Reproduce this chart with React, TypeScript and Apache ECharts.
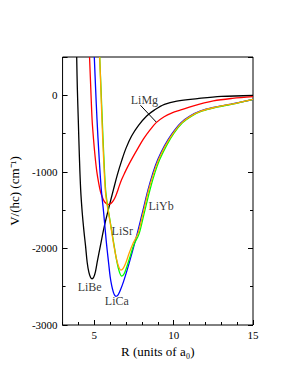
import React, { useEffect, useRef } from "react";
import * as echarts from "echarts";

// Potential curves: [R (a0), V/(hc) (cm^-1)]
const liBe = [
  [3.89, 500], [3.93, 100], [3.99, -314], [4.06, -800], [4.14, -1229], [4.24, -1534],
  [4.35, -1780], [4.45, -1970], [4.55, -2180], [4.66, -2314], [4.76, -2376], [4.86, -2396],
  [4.96, -2376], [5.07, -2306], [5.2, -2160], [5.38, -1970], [5.6, -1740], [5.9, -1480],
  [6.21, -1229], [6.45, -1040], [6.73, -850], [7.0, -690], [7.35, -532], [7.8, -390],
  [8.3, -270], [8.8, -190], [9.42, -118], [10.2, -75], [11.5, -43], [13, -15], [15, -3],
];
const liMg = [
  [4.7, 500], [4.78, 80], [4.86, -314], [4.95, -570], [5.05, -800], [5.16, -1000],
  [5.28, -1150], [5.38, -1250], [5.48, -1316], [5.6, -1375], [5.75, -1412], [5.9, -1425],
  [6.05, -1412], [6.2, -1375], [6.33, -1325], [6.45, -1260], [6.58, -1180], [6.73, -1098],
  [6.9, -1020], [7.1, -935], [7.35, -837], [7.7, -710], [8.1, -570], [8.5, -455],
  [8.9, -357], [9.4, -280], [9.9, -230], [10.45, -192], [11.2, -140], [12.5, -74],
  [13.7, -40], [15, -17],
];
const liCa = [
  [5.0, 500], [5.08, 100], [5.17, -314], [5.3, -800], [5.44, -1229], [5.59, -1534],
  [5.75, -1900], [5.9, -2187], [6.0, -2370], [6.1, -2490], [6.2, -2570], [6.28, -2610],
  [6.36, -2625], [6.5, -2605], [6.65, -2540], [6.83, -2440], [7.1, -2260], [7.4, -2040],
  [7.7, -1810], [8.0, -1560], [8.38, -1240], [8.7, -1010], [9.0, -840], [9.42, -660],
  [9.9, -500], [10.45, -360], [11.0, -275], [11.7, -205], [12.6, -155], [13.6, -115],
  [15, -55],
];
const liGreen = [
  [5.34, 500], [5.42, 100], [5.5, -314], [5.6, -800], [5.71, -1229], [5.82, -1420],
  [5.97, -1610], [6.12, -1800], [6.27, -1990], [6.42, -2170], [6.57, -2300], [6.73, -2362],
  [6.88, -2330], [7.05, -2240], [7.25, -2110], [7.5, -1950], [7.82, -1810], [8.12, -1560],
  [8.5, -1240], [8.82, -1010], [9.12, -840], [9.54, -660], [10.0, -500], [10.55, -360],
  [11.1, -275], [11.8, -205], [12.7, -155], [13.7, -115], [15, -52],
];
const liOrange = [
  [5.34, 500], [5.41, 100], [5.48, -314], [5.58, -800], [5.69, -1229], [5.8, -1420],
  [5.95, -1600], [6.1, -1790], [6.25, -1980], [6.4, -2140], [6.55, -2245], [6.68, -2283],
  [6.82, -2260], [7.0, -2180], [7.2, -2060], [7.45, -1930], [7.76, -1800], [8.05, -1560],
  [8.42, -1240], [8.75, -1010], [9.05, -840], [9.47, -660], [9.95, -500], [10.5, -360],
  [11.05, -275], [11.75, -205], [12.65, -155], [13.65, -115], [15, -52],
];

const labelNames = ["LiMg", "LiBe", "LiCa", "LiSr", "LiYb"];
const labelCoords = [[8.16, -65], [4.71, -2510], [6.42, -2693], [6.76, -1778], [9.21, -1451]];
const arrowFrom = [7.91, -131];
const arrowTo = [8.9, -349];

const xMajorTicks = [5, 10, 15];

const FONT = "Liberation Serif, Times New Roman, serif";

export default function App() {
  const ref = useRef<HTMLDivElement>(null);
  useEffect(() => {
    if (!ref.current) return;
    const chart = echarts.init(ref.current, undefined, { renderer: "svg" });
    const lineSeries = (name: string, data: number[][], color: string, extra: any = {}) => ({
      name,
      type: "line",
      data,
      smooth: 0.35,
      showSymbol: false,
      symbol: "none",
      lineStyle: { color, width: 1.3 },
      z: 3,
      ...extra,
    });
    const commonY = {
      type: "value",
      min: -3000,
      max: 500,
      splitLine: { show: false },
    };
    const noLine = { show: false, onZero: false };
    chart.setOption({
      animation: false,
      textStyle: { fontFamily: FONT },
      grid: {
        left: 60,
        right: 45,
        top: 57,
        bottom: 60,
        show: true,
        borderColor: "#000",
        borderWidth: 1,
        backgroundColor: "transparent",
      },
      xAxis: [
        {
          type: "value",
          min: 3,
          max: 15,
          position: "bottom",
          splitLine: { show: false },
          axisLine: noLine,
          axisTick: { show: true, inside: true, length: 5, customValues: xMajorTicks, lineStyle: { color: "#000" } },
          axisLabel: {
            customValues: xMajorTicks,
            color: "#000",
            fontSize: 11,
            fontFamily: FONT,
            margin: 4,
            formatter: (v: number) => String(v),
          },
          name: "R (units of a\u2080)",
          nameLocation: "middle",
          nameGap: 16,
          nameTextStyle: { color: "#000", fontSize: 13, fontFamily: FONT },
        },
        {
          type: "value",
          min: 3,
          max: 15,
          interval: 1,
          position: "bottom",
          splitLine: { show: false },
          axisLine: noLine,
          axisTick: { show: true, inside: true, length: 3, lineStyle: { color: "#000" } },
          axisLabel: { show: false },
        },
      ],
      yAxis: [
        {
          ...commonY,
          interval: 1000,
          position: "left",
          axisLine: noLine,
          axisTick: { show: true, inside: true, length: 5, lineStyle: { color: "#000" } },
          axisLabel: {
            color: "#000",
            fontSize: 11,
            fontFamily: FONT,
            margin: 5,
            formatter: (v: number) => (v > 0 ? "" : String(v)),
          },
          name: "V/(hc) (cm\u207B\u00B9)",
          nameLocation: "middle",
          nameGap: 31,
          nameRotate: 90,
          nameTextStyle: { color: "#000", fontSize: 13, fontFamily: FONT },
        },
        {
          ...commonY,
          interval: 500,
          position: "left",
          axisLine: noLine,
          axisTick: { show: true, inside: true, length: 3, lineStyle: { color: "#000" } },
          axisLabel: { show: false },
        },
        {
          ...commonY,
          interval: 1000,
          position: "right",
          axisLine: noLine,
          axisTick: { show: true, inside: true, length: 5, lineStyle: { color: "#000" } },
          axisLabel: { show: false },
        },
        {
          ...commonY,
          interval: 500,
          position: "right",
          axisLine: noLine,
          axisTick: { show: true, inside: true, length: 3, lineStyle: { color: "#000" } },
          axisLabel: { show: false },
        },
      ],
      series: [
        lineSeries("LiBe", liBe, "#000000"),
        lineSeries("LiMg", liMg, "#ff0000", {
          markLine: {
            silent: true,
            symbol: ["none", "arrow"],
            symbolSize: [0, 7],
            label: { show: false },
            lineStyle: { color: "#000", width: 1, type: "solid" },
            data: [[{ coord: arrowFrom }, { coord: arrowTo }]],
          },
        }),
        lineSeries("LiCa", liCa, "#0000ff"),
        lineSeries("LiSr", liGreen, "#00ff00"),
        lineSeries("LiYb", liOrange, "#ffa500"),
        {
          type: "scatter",
          symbolSize: 0,
          z: 5,
          silent: true,
          data: labelNames.map((n, i) => ({ name: n, value: labelCoords[i] })),
          label: {
            show: true,
            position: "inside",
            formatter: (p: any) => p.name,
            color: "#000",
            fontSize: 12,
            fontFamily: FONT,
          },
        },
      ],
    });
    return () => chart.dispose();
  }, []);
  return (
    <div
      ref={ref}
      style={{ position: "fixed", left: 0, top: 0, width: 298, height: 385, background: "#fff" }}
    />
  );
}
